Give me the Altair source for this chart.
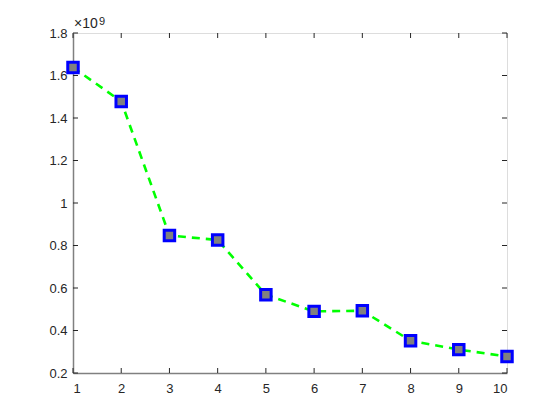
import altair as alt
import pandas as pd

x_vals = [1, 2, 3, 4, 5, 6, 7, 8, 9, 10]
y_vals = [1.638e9, 1.478e9, 0.847e9, 0.826e9, 0.568e9, 0.490e9, 0.493e9, 0.352e9, 0.310e9, 0.278e9]
x_ticks = [1, 2, 3, 4, 5, 6, 7, 8, 9, 10]
y_ticks = [0.2e9, 0.4e9, 0.6e9, 0.8e9, 1.0e9, 1.2e9, 1.4e9, 1.6e9, 1.8e9]
exp_base = ["×10"]
exp_power = ["9"]

W, H = 434, 340
AX = "#808080"
TXT = "#262626"
FONT = "Liberation Sans"

df = pd.DataFrame({"x": x_vals, "y": y_vals})
xt = pd.DataFrame({"x": x_ticks})
yt = pd.DataFrame({"y": y_ticks})

xs = alt.Scale(domain=[1, 10], nice=False, zero=False)
ys = alt.Scale(domain=[0.2e9, 1.8e9], nice=False, zero=False)

x_enc = alt.X("x:Q", scale=xs, axis=alt.Axis(values=x_ticks, title=None, ticks=False,
                                               labelPadding=9, grid=False, format="d",
                                               labelFont=FONT, labelFontSize=13, labelColor=TXT,
                                               domainColor=AX, domainWidth=1.5))
y_enc = alt.Y("y:Q", scale=ys, axis=alt.Axis(values=y_ticks, title=None, ticks=False,
                                               labelPadding=6, grid=False,
                                               labelFont=FONT, labelFontSize=13, labelColor=TXT,
                                               domainColor=AX, domainWidth=1.5,
                                               labelExpr="format(datum.value/1e9, '.1~f')"))

line = alt.Chart(df).mark_line(color="#00ff00", strokeWidth=2.6, strokeDash=[8, 6]).encode(
    x=x_enc, y=y_enc)
pts = alt.Chart(df).mark_point(shape="square", filled=True, fill="#808080", stroke="#0000ff",
                               strokeWidth=3, size=110, opacity=1).encode(
    x=alt.X("x:Q", scale=xs), y=alt.Y("y:Q", scale=ys))

tick_style = dict(color="#262626", strokeWidth=1)
left_t = alt.Chart(yt).mark_rule(**tick_style).encode(
    y=alt.Y("y:Q", scale=ys), x=alt.value(0), x2=alt.value(5))
right_t = alt.Chart(yt).mark_rule(**tick_style).encode(
    y=alt.Y("y:Q", scale=ys), x=alt.value(W - 5), x2=alt.value(W))
bot_t = alt.Chart(xt).mark_rule(**tick_style).encode(
    x=alt.X("x:Q", scale=xs), y=alt.value(H - 5), y2=alt.value(H))
top_t = alt.Chart(xt).mark_rule(**tick_style).encode(
    x=alt.X("x:Q", scale=xs), y=alt.value(0), y2=alt.value(5))

base_txt = alt.Chart(pd.DataFrame({"t": exp_base})).mark_text(
    align="left", baseline="alphabetic", font=FONT, fontSize=14, color=TXT).encode(
    text="t:N", x=alt.value(1), y=alt.value(-5))
pow_txt = alt.Chart(pd.DataFrame({"t": exp_power})).mark_text(
    align="left", baseline="alphabetic", font=FONT, fontSize=11, color=TXT).encode(
    text="t:N", x=alt.value(26), y=alt.value(-8))

chart = alt.layer(left_t, right_t, bot_t, top_t, line, pts, base_txt, pow_txt).properties(
    width=W, height=H,
    autosize=alt.AutoSizeParams(type="none"),
    padding={"left": 65, "top": 25, "right": 45, "bottom": 30},
).configure_view(
    stroke=AX, strokeWidth=1.5,
).configure(background="white")

chart.save("out.html", embed_options={"renderer": "svg", "actions": False})
